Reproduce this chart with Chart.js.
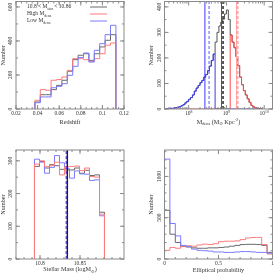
<!DOCTYPE html>
<html>
<head>
<meta charset="utf-8">
<script src="https://cdn.jsdelivr.net/npm/chart.js@4"></script>
<style>
  body { margin: 0; background: #fff; width: 275px; height: 276px; position: relative; overflow: hidden; }
  canvas { position: absolute; }
</style>
</head>
<body>
<canvas id="c1" width="137" height="138" style="left:0;top:0"></canvas>
<canvas id="c2" width="138" height="138" style="left:137px;top:0"></canvas>
<canvas id="c3" width="137" height="138" style="left:0;top:138px"></canvas>
<canvas id="c4" width="138" height="138" style="left:137px;top:138px"></canvas>
<script>
// Panel 1: redshift
const zEdges = [0.0375, 0.0425, 0.0475, 0.0525, 0.0575, 0.0625, 0.0675, 0.0725, 0.0775, 0.0825, 0.0875, 0.0925, 0.0975, 0.1025, 0.1075, 0.1125];
const zAll  = [41, 84, 84, 114, 139, 169, 222, 290, 316, 325, 286, 325, 365, 404, 437];
const zHigh = [51, 114, 110, 169, 173, 188, 227, 296, 296, 290, 280, 296, 325, 375, 388];
const zLow  = [37, 71, 71, 125, 133, 149, 198, 251, 302, 329, 276, 345, 384, 437, 492];
const zTicks = [0.02, 0.04, 0.06, 0.08, 0.1, 0.12];
const zTickLabels = ['0.02', '0.04', '0.06', '0.08', '0.1', '0.12'];
const zCountTicks = [0, 200, 400, 600];

// Panel 2: log M_dens
const dEdges = [7.40, 7.45, 7.50, 7.55, 7.60, 7.65, 7.70, 7.75, 7.80, 7.85, 7.90, 7.95, 8.00, 8.05, 8.10, 8.15, 8.20, 8.25, 8.30, 8.35, 8.40, 8.45, 8.50, 8.55, 8.60, 8.65, 8.70, 8.75, 8.80, 8.85, 8.90, 8.95, 9.00, 9.05, 9.10, 9.15, 9.20, 9.25, 9.30, 9.35, 9.40, 9.45, 9.50, 9.55, 9.60, 9.65, 9.70, 9.75, 9.80, 9.85, 9.90, 9.95];
const dAll  = [2, 1, 3, 2, 4, 5, 7, 9, 13, 17, 24, 30, 38, 45, 55, 70, 82, 92, 103, 112, 125, 135, 150, 168, 190, 215, 262, 300, 325, 340, 352, 372, 388, 350, 290, 262, 240, 205, 170, 125, 95, 72, 55, 40, 26, 14, 8, 5, 3, 2, 1];
const dLow  = [2, 1, 3, 2, 4, 5, 7, 9, 13, 17, 24, 30, 38, 45, 55, 70, 82, 92, 103, 112, 125, 135, 150, 168, 190, 215, 0, 0, 0, 0, 0, 0, 0, 0, 0, 0, 0, 0, 0, 0, 0, 0, 0, 0, 0, 0, 0, 0, 0, 0, 0];
const dHigh = [0, 0, 0, 0, 0, 0, 0, 0, 0, 0, 0, 0, 0, 0, 0, 0, 0, 0, 0, 0, 0, 0, 0, 0, 0, 0, 0, 0, 0, 0, 0, 0, 0, 0, 290, 262, 240, 205, 170, 125, 95, 72, 55, 40, 26, 14, 8, 5, 3, 2, 1];
const dLowMedian = 8.43, dLowMean = 8.54;
const dAllMedian = 8.87, dAllMean = 8.91;
const dHighMedian = 9.27, dHighMean = 9.29;
const dTicks = [8, 9, 10];
const dTickExp = ['8', '9', '10'];
const dCountTicks = [0, 100, 200, 300, 400];

// Panel 3: stellar mass
const mEdges = [10.7931, 10.7994, 10.8056, 10.8119, 10.8181, 10.8244, 10.8306, 10.8369, 10.8431, 10.8494, 10.8556, 10.8619, 10.8681, 10.8744, 10.8806];
const mAll  = [283, 298, 278, 288, 285, 274, 272, 272, 278, 262, 271, 255, 257, 143];
const mHigh = [290, 300, 282, 285, 296, 257, 282, 283, 284, 270, 278, 252, 250, 137];
const mLow  = [305, 296, 262, 280, 316, 294, 276, 247, 269, 260, 259, 240, 242, 132];
const mMeanAll = 10.8342, mMeanLow = 10.8328;
const mTicks = [10.8, 10.85];
const mTickLabels = ['10.8', '10.85'];
const mCountTicks = [0, 100, 200, 300];

// Panel 4: elliptical probability
const pEdges = [0, 0.05, 0.1, 0.15, 0.2, 0.25, 0.3, 0.35, 0.4, 0.45, 0.5, 0.55, 0.6, 0.65, 0.7, 0.75, 0.8, 0.85, 0.9, 0.95, 1.0];
const pAll  = [590, 300, 200, 150, 145, 135, 130, 130, 135, 135, 140, 145, 155, 165, 175, 178, 178, 175, 165, 80];
const pHigh = [105, 140, 130, 155, 160, 155, 170, 180, 175, 185, 210, 215, 215, 220, 235, 255, 260, 262, 175, 60];
const pLow  = [1210, 430, 280, 165, 150, 120, 105, 100, 95, 85, 85, 80, 80, 85, 90, 90, 85, 80, 80, 70];
const pTicks = [0, 0.5, 1];
const pTickLabels = ['0', '0.5', '1'];
const pCountTicks = [0, 500, 1000];

const FONT = '"Liberation Serif", "DejaVu Serif", serif';
const INK = '#333';
const GRAY = '#6a6a6a';
const RED = '#ff7b7b';
const BLUE = '#7b7bff';

// frame settings per canvas, kept outside chart options so Chart.js leaves them alone
const frames = {};

function font(size) {
    return size + 'px ' + FONT;
}

// parts: [text, 'n' | 'b' (subscript) | 'p' (superscript)]
function drawRich(ctx, parts, x, y, size, align) {
    const small = size * 0.7;
    let w = 0;
    parts.forEach(([t, m]) => {
        ctx.font = font(m === 'n' ? size : small);
        w += ctx.measureText(t).width;
    });
    let cx = align === 'center' ? x - w / 2 : x;
    parts.forEach(([t, m]) => {
        ctx.font = font(m === 'n' ? size : small);
        const dy = m === 'b' ? size * 0.3 : m === 'p' ? -size * 0.35 : 0;
        ctx.fillText(t, cx, y + dy);
        cx += ctx.measureText(t).width;
    });
}

function steps(from, to, step) {
    const out = [];
    for (let v = from; v <= to + 1e-9; v += step) out.push(+v.toFixed(6));
    return out;
}

function hist(edges, vals) {
    const pts = [{ x: edges[0], y: 0 }];
    vals.forEach((v, i) => pts.push({ x: edges[i], y: v }));
    pts.push({ x: edges[edges.length - 1], y: 0 });
    return pts;
}

function vline(x, top) {
    return [{ x: x, y: 0 }, { x: x, y: top }];
}

const framePlugin = {
    id: 'frame',
    afterDatasetsDraw(chart) {
        const o = frames[chart.canvas.id];
        const { ctx, chartArea: a } = chart;
        const sx = chart.scales.x, sy = chart.scales.y;
        ctx.save();
        ctx.strokeStyle = '#8a8a8a';
        ctx.lineWidth = 1;
        ctx.beginPath();
        [[o.xMinor, 2], [o.xMajor, 4]].forEach(([list, len]) => {
            list.forEach(v => {
                const px = sx.getPixelForValue(v);
                if (px < a.left - 0.5 || px > a.right + 0.5) return;
                ctx.moveTo(px, a.bottom); ctx.lineTo(px, a.bottom - len);
                ctx.moveTo(px, a.top); ctx.lineTo(px, a.top + len);
            });
        });
        [[o.yMinor, 2], [o.yMajor, 4]].forEach(([list, len]) => {
            list.forEach(v => {
                const py = sy.getPixelForValue(v);
                if (py < a.top - 0.5 || py > a.bottom + 0.5) return;
                ctx.moveTo(a.left, py); ctx.lineTo(a.left + len, py);
                ctx.moveTo(a.right, py); ctx.lineTo(a.right - len, py);
            });
        });
        ctx.stroke();
        ctx.strokeRect(a.left, a.top, a.right - a.left, a.bottom - a.top);

        ctx.fillStyle = INK;
        ctx.textBaseline = 'middle';
        o.xMajor.forEach((v, i) => {
            drawRich(ctx, o.xLabels[i], sx.getPixelForValue(v), a.bottom + o.labelGap, 5.5, 'center');
        });
        o.yMajor.forEach(v => {
            ctx.save();
            ctx.translate(a.left - 5, sy.getPixelForValue(v));
            ctx.rotate(-Math.PI / 2);
            drawRich(ctx, [[String(v), 'n']], 0, 0, 5.5, 'center');
            ctx.restore();
        });
        drawRich(ctx, o.xTitle, (a.left + a.right) / 2, a.bottom + o.titleGap, 6.2, 'center');
        ctx.save();
        ctx.translate(a.left - 13, (a.top + a.bottom) / 2);
        ctx.rotate(-Math.PI / 2);
        drawRich(ctx, [['Number', 'n']], 0, 0, 6.2, 'center');
        ctx.restore();
        if (o.extra) o.extra(ctx, chart);
        ctx.restore();
    }
};

function line(data, color, extra) {
    return Object.assign({
        data: data,
        borderColor: color,
        borderWidth: 1,
        pointRadius: 0,
        fill: false,
        stepped: true
    }, extra || {});
}

function makeChart(id, datasets, xr, yr, padding, frame) {
    frames[id] = frame;
    return new Chart(document.getElementById(id), {
        type: 'line',
        data: { datasets: datasets },
        options: {
            responsive: false,
            animation: false,
            devicePixelRatio: 1,
            layout: { padding: padding },
            scales: {
                x: { type: 'linear', display: false, min: xr[0], max: xr[1] },
                y: { type: 'linear', display: false, min: yr[0], max: yr[1] }
            },
            plugins: { legend: { display: false }, tooltip: { enabled: false } }
        },
        plugins: [framePlugin]
    });
}

const legendLabels = [
    [['10.8 < M', 'n'], ['star', 'b'], [' < 10.86', 'n']],
    [['High M', 'n'], ['dens', 'b']],
    [['Low M', 'n'], ['dens', 'b']]
];
const legendColors = [GRAY, RED, BLUE];

// Panel 1
makeChart('c1', [
    line(hist(zEdges, zLow), BLUE),
    line(hist(zEdges, zHigh), RED),
    line(hist(zEdges, zAll), GRAY)
], [0.02, 0.12], [0, 632], { left: 16, top: 1.5, right: 13, bottom: 29 }, {
    xMajor: zTicks, xMinor: steps(0.02, 0.12, 0.005),
    xLabels: zTickLabels.map(t => [[t, 'n']]),
    yMajor: zCountTicks, yMinor: steps(0, 600, 100),
    labelGap: 5, titleGap: 13,
    xTitle: [['Redshift', 'n']],
    extra(ctx) {
        legendLabels.forEach((parts, i) => {
            const y = 7 + i * 7;
            ctx.fillStyle = INK;
            drawRich(ctx, parts, 27, y, 5.5, 'left');
            ctx.strokeStyle = legendColors[i];
            ctx.beginPath();
            ctx.moveTo(90, y); ctx.lineTo(107, y);
            ctx.stroke();
        });
    }
});

// Panel 2
const dTop = 421;
const dMinor = [];
[7, 8, 9, 10].forEach(d => [2, 3, 4, 5, 6, 7, 8, 9].forEach(k => dMinor.push(d + Math.log10(k))));
makeChart('c2', [
    line(vline(dLowMedian, dTop), '#3a3aff', { stepped: false }),
    line(vline(dLowMean, dTop), '#5a5aff', { stepped: false, borderDash: [3, 2] }),
    line(vline(dAllMedian, dTop), '#555', { stepped: false }),
    line(vline(dAllMean, dTop), '#333', { stepped: false, borderWidth: 1.6, borderDash: [3, 2] }),
    line(vline(dHighMedian, dTop), '#ff9c9c', { stepped: false }),
    line(vline(dHighMean, dTop), '#ffb0b0', { stepped: false, borderWidth: 2.5, borderDash: [3, 2] }),
    line(hist(dEdges, dLow), '#3c3cf0'),
    line(hist(dEdges, dHigh), '#ff4a4a'),
    line(hist(dEdges, dAll), '#555')
], [7.36, 10.22], [0, dTop], { left: 27.5, top: 1.5, right: 2.5, bottom: 29 }, {
    xMajor: dTicks, xMinor: dMinor,
    xLabels: dTickExp.map(e => [['10', 'n'], [e, 'p']]),
    yMajor: dCountTicks, yMinor: steps(0, 400, 50),
    labelGap: 5, titleGap: 13,
    xTitle: [['M', 'n'], ['dens', 'b'], [' (M', 'n'], ['\u2299', 'b'], [' Kpc', 'n'], ['-2', 'p'], [')', 'n']]
});

// Panel 3
const mTop = 333;
makeChart('c3', [
    line(vline(mMeanAll, mTop), '#2a1450', { stepped: false, borderWidth: 1.4 }),
    line(vline(mMeanLow, mTop), '#6a5aff', { stepped: false, borderWidth: 1.4, borderDash: [3, 2] }),
    line(hist(mEdges, mHigh), RED),
    line(hist(mEdges, mLow), BLUE),
    line(hist(mEdges, mAll), GRAY)
], [10.77, 10.905], [0, mTop], { left: 16, top: 12, right: 13, bottom: 17 }, {
    xMajor: mTicks, xMinor: steps(10.77, 10.9, 0.01),
    xLabels: mTickLabels.map(t => [[t, 'n']]),
    yMajor: mCountTicks, yMinor: steps(0, 300, 50),
    labelGap: 4.5, titleGap: 10.5,
    xTitle: [['Stellar Mass (logM', 'n'], ['\u2299', 'b'], [')', 'n']]
});

// Panel 4
makeChart('c4', [
    line(hist(pEdges, pLow), BLUE),
    line(hist(pEdges, pHigh), RED),
    line(hist(pEdges, pAll), GRAY)
], [0, 1], [0, 1320], { left: 27.5, top: 12, right: 2.5, bottom: 17 }, {
    xMajor: pTicks, xMinor: steps(0, 1, 0.1),
    xLabels: pTickLabels.map(t => [[t, 'n']]),
    yMajor: pCountTicks, yMinor: steps(0, 1300, 100),
    labelGap: 4.5, titleGap: 11,
    xTitle: [['Elliptical probability', 'n']]
});
</script>
</body>
</html>
